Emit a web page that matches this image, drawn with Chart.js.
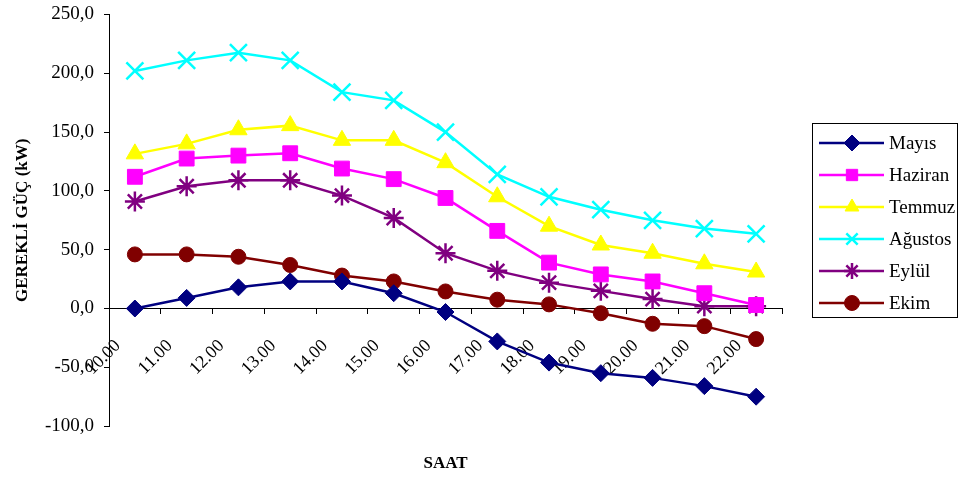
<!DOCTYPE html>
<html><head><meta charset="utf-8">
<script src="https://cdn.jsdelivr.net/npm/chart.js@4.4.1/dist/chart.umd.min.js"></script>
<style>html,body{margin:0;padding:0;background:#fff}#wrap{position:relative;width:958px;height:477px}</style>
</head><body><div id="wrap"><canvas id="c" width="958" height="477"></canvas></div>
<script>
const hours = ['10.00','11.00','12.00','13.00','14.00','15.00','16.00','17.00','18.00','19.00','20.00','21.00','22.00'];
const mayis   = [0, 9, 18, 23, 23, 13, -3, -28, -46, -55, -59, -66, -75];
const haziran = [112, 127.5, 130, 132, 119, 110, 94, 66, 39, 29, 23, 13, 3];
const temmuz  = [131.5, 140, 152, 155.5, 143, 143, 124, 95, 70, 54, 47, 38, 31];
const agustos = [202, 211, 217.5, 211, 184, 177, 150, 114, 95, 84, 75, 68, 63.5];
const eylul   = [91, 104, 109, 109, 96, 77, 47, 32, 22, 15, 8, 2, 2];
const ekim    = [46, 46, 44, 37, 28, 23, 14.5, 7.5, 3.5, -4, -13, -15, -26];
const seriesNames = ['Mayıs','Haziran','Temmuz','Ağustos','Eylül','Ekim'];
const yAxisTitle = 'GEREKLİ GÜÇ (kW)';
const xAxisTitle = 'SAAT';

const FONT = "'Liberation Serif','Times New Roman',serif";

function ds(label, data, color, style, radius, bw) {
  return {
    label, data,
    borderColor: color, backgroundColor: color,
    pointBackgroundColor: color, pointBorderColor: color,
    borderWidth: 2.5, tension: 0,
    pointStyle: style, pointRadius: radius, pointHoverRadius: radius,
    pointBorderWidth: bw
  };
}

const datasets = [
  ds(seriesNames[0], mayis,   '#000080', 'rectRot', 8.5, 1),
  ds(seriesNames[1], haziran, '#FF00FF', 'rect', 10.5, 1),
  ds(seriesNames[2], temmuz,  '#FFFF00', 'triangle', 10, 1),
  ds(seriesNames[3], agustos, '#00FFFF', 'crossRot', 12, 2.5),
  ds(seriesNames[4], eylul,   '#800080', 'star', 10, 2.5),
  ds(seriesNames[5], ekim,    '#800000', 'circle', 7.5, 1)
];

const boxLegend = {
  id: 'boxLegend',
  afterDraw(chart) {
    const ctx = chart.ctx;
    const L = 812, T = 123, W = 145, H = 194;
    ctx.save();
    ctx.strokeStyle = '#000'; ctx.lineWidth = 1;
    ctx.strokeRect(L + 0.5, T + 0.5, W, H);
    chart.data.datasets.forEach((d, i) => {
      const y = Math.round(T + 19.5 + i * 32.1);
      ctx.strokeStyle = d.borderColor; ctx.lineWidth = d.borderWidth;
      ctx.beginPath(); ctx.moveTo(819, y); ctx.lineTo(884, y); ctx.stroke();
      ctx.fillStyle = d.pointBackgroundColor; ctx.strokeStyle = d.pointBorderColor;
      ctx.lineWidth = d.pointBorderWidth;
      const r = Math.min(d.pointRadius, 8);
      Chart.helpers.drawPoint(ctx, {pointStyle: d.pointStyle, radius: r, rotation: 0, borderWidth: d.pointBorderWidth}, 852, y);
      ctx.fillStyle = '#000';
      ctx.font = '19px ' + FONT;
      ctx.textBaseline = 'middle'; ctx.textAlign = 'left';
      ctx.fillText(d.label, 889, y + 1);
    });
    ctx.restore();
  }
};

new Chart(document.getElementById('c'), {
  type: 'line',
  data: { labels: hours, datasets },
  plugins: [boxLegend],
  options: {
    responsive: false, animation: false,
    layout: { padding: { top: 13, right: 176, bottom: 0, left: 0 } },
    plugins: {
      legend: { display: false },
      tooltip: { enabled: false },
      title: {
        display: true, text: xAxisTitle, position: 'bottom', fullSize: false,
        color: '#000', font: { family: FONT, size: 17, weight: 'bold', lineHeight: 1.2 },
        padding: { top: 27, bottom: 3.5 }
      }
    },
    scales: {
      x: {
        type: 'category', position: { y: 0 }, offset: true,
        grid: { display: true, offset: true, drawOnChartArea: false, drawTicks: true, tickLength: 5, tickColor: '#000', color: '#000' },
        border: { display: true, color: '#000', width: 1 },
        ticks: { color: '#000', font: { family: FONT, size: 18 }, minRotation: 45, maxRotation: 45, autoSkip: false, padding: 22, labelOffset: -17 },
        afterFit(scale) { scale.height = 0; scale.paddingLeft = 0; scale.paddingRight = 0; scale.paddingTop = 0; scale.paddingBottom = 0; }
      },
      y: {
        min: -100, max: 250,
        ticks: { stepSize: 50, color: '#000', font: { family: FONT, size: 19 }, padding: 10,
          callback: v => v.toFixed(1).replace('.', ',') },
        grid: { display: true, drawOnChartArea: false, drawTicks: true, tickLength: 5, tickColor: '#000', color: '#000' },
        border: { display: true, color: '#000', width: 1 },
        title: { display: true, text: yAxisTitle, color: '#000', font: { family: FONT, size: 17, weight: 'bold', lineHeight: 1.2 }, padding: { top: 12, bottom: 0 } },
        afterFit(scale) { scale.width = 109; scale.paddingTop = 0; scale.paddingBottom = 0; scale.paddingLeft = 0; scale.paddingRight = 0; }
      }
    }
  }
});
</script>
</body></html>
